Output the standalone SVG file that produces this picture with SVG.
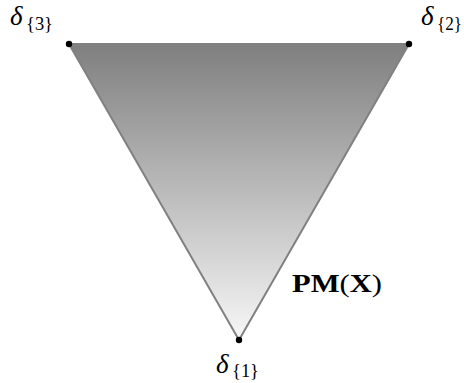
<svg xmlns="http://www.w3.org/2000/svg" width="464" height="383" viewBox="0 0 464 383">
<defs>
<linearGradient id="g" x1="0" y1="0" x2="0" y2="1">
<stop offset="0" stop-color="#7f7f7f"/>
<stop offset="1" stop-color="#f7f7f7"/>
</linearGradient>
<style>
.lbl{font-family:"Liberation Serif",serif;fill:#000}
.d{font-size:27px;font-style:italic}
.sub{font-size:18px}
.pm{font-size:25px}
.pt{fill:#000}
</style>
</defs>
<g id="simplex">
<polygon points="69,44 409,44 239,340" fill="url(#g)" stroke="#808080" stroke-width="2" stroke-linejoin="round"/>
</g>
<g id="v3"><circle class="pt" cx="69" cy="44" r="3.2"/><text class="lbl d" x="10" y="25">δ</text><text class="lbl sub" x="26" y="30" textLength="27" lengthAdjust="spacingAndGlyphs">{3}</text></g>
<g id="v2"><circle class="pt" cx="409" cy="44" r="3.2"/><text class="lbl d" x="421" y="25">δ</text><text class="lbl sub" x="437" y="30" textLength="25" lengthAdjust="spacingAndGlyphs">{2}</text></g>
<g id="v1"><circle class="pt" cx="239" cy="340" r="3.2"/><text class="lbl d" x="216" y="373">δ</text><text class="lbl sub" x="232" y="377" textLength="27" lengthAdjust="spacingAndGlyphs">{1}</text></g>
<g id="label"><text class="lbl pm" x="292" y="292" textLength="90" lengthAdjust="spacingAndGlyphs"><tspan font-weight="bold">PM</tspan>(<tspan font-weight="bold">X</tspan>)</text></g>
</svg>
